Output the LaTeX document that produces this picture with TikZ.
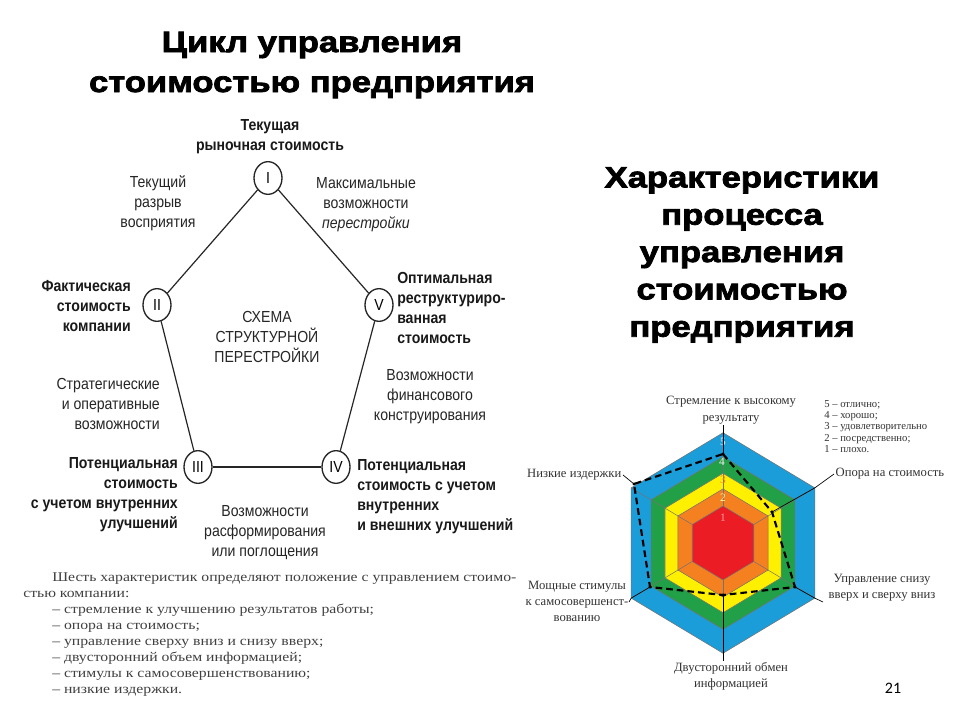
\documentclass[tikz,border=0pt]{standalone}
\usepackage{fontspec}
\setmainfont{Liberation Serif}
\newfontfamily\heavy[FakeStretch=1.18,FakeBold=2.6]{Liberation Sans}
\newfontfamily\narrow[FakeStretch=0.88]{Liberation Sans}
\newfontfamily\serifx[FakeStretch=1.18]{Liberation Serif}
\newfontfamily\calib{Carlito}
\usetikzlibrary{shapes.geometric}
\definecolor{hblue}{RGB}{27,157,218}
\definecolor{hgreen}{RGB}{34,160,72}
\definecolor{hyellow}{RGB}{255,240,0}
\definecolor{horange}{RGB}{245,128,32}
\definecolor{hred}{RGB}{236,28,36}
\begin{document}
\begin{tikzpicture}[x=0.75pt,y=-0.75pt,
  ttl/.style={font=\heavy\bfseries\fontsize{22}{30}\selectfont, align=center, inner sep=0},
  ttlr/.style={font=\heavy\bfseries\fontsize{22}{28}\selectfont, align=center, inner sep=0},
  lab/.style={font=\narrow\fontsize{12}{15}\selectfont, text=black!85, inner sep=0},
  blab/.style={font=\narrow\bfseries\fontsize{12}{15}\selectfont, text=black!90, inner sep=0},
  stage/.style={draw=black!85, ellipse, minimum width=21pt, minimum height=24.5pt, inner sep=0,
     line width=1pt, font=\narrow\fontsize{12}{14}\selectfont},
  edge/.style={line width=0.9pt, draw=black!85},
  para/.style={font=\serifx\fontsize{10}{12}\selectfont, text=black!75, align=left, inner sep=0},
  hlab/.style={font=\fontsize{9.5}{12}\selectfont, text=black!80, align=center, inner sep=1pt},
  leg/.style={font=\fontsize{8}{8.5}\selectfont, text=black!80, align=left, inner sep=0},
  num/.style={font=\fontsize{8.5}{9}\selectfont, inner sep=0},
  axisline/.style={draw=black, line width=0.5pt},
  band/.style={draw=black!55, line width=0.4pt},
  dashpath/.style={draw=black, line width=1.6pt, dash pattern=on 5pt off 3pt}]
\useasboundingbox (0,0) rectangle (960,720);
\fill[white] (0,0) rectangle (960,720);

% titles
\node[ttl] (title1) at (312,65) {Цикл управления\\стоимостью предприятия};
\node[ttlr] (title2) at (742,255) {Характеристики\\процесса\\управления\\стоимостью\\предприятия};

% pentagon
\node[stage] (s1) at (268,178) {I};
\node[stage] (s2) at (157,305) {II};
\node[stage] (s5) at (379,305) {V};
\node[stage] (s3) at (198,467) {III};
\node[stage] (s4) at (336,467) {IV};
\draw[edge] (s1) -- (s2);
\draw[edge] (s1) -- (s5);
\draw[edge] (s2) -- (s3);
\draw[edge] (s5) -- (s4);
\draw[edge] (s3) -- (s4);

\node[blab, align=center] (l1) at (270,137) {Текущая\\рыночная стоимость};
\node[lab, align=center] (g12) at (158,203) {Текущий\\разрыв\\восприятия};
\node[lab, align=center] (g15) at (366,205) {Максимальные\\возможности\\\textit{перестройки}};
\node[blab, align=right, anchor=east] (l2) at (131,306) {Фактическая\\стоимость\\компании};
\node[blab, align=left, anchor=west] (l5) at (397,308) {Оптимальная\\реструктуриро-\\ванная\\стоимость};
\node[lab, align=center] (sch) at (267,337) {СХЕМА\\СТРУКТУРНОЙ\\ПЕРЕСТРОЙКИ};
\node[lab, align=right, anchor=east] (g23) at (160,404) {Стратегические\\и оперативные\\возможности};
\node[blab, align=right, anchor=east] (l3) at (178,495) {Потенциальная\\стоимость\\с учетом внутренних\\улучшений};
\node[lab, align=center] (g34) at (265,533) {Возможности\\расформирования\\или поглощения};
\node[lab, align=center] (g45) at (430,397) {Возможности\\финансового\\конструирования};
\node[blab, align=left, anchor=west] (l4) at (357,497) {Потенциальная\\стоимость с учетом\\внутренних\\и внешних улучшений};

% paragraph
\node[para, anchor=west] (par) at (23,635) {\hspace*{21.75pt}Шесть характеристик определяют положение с управлением стоимо-\\
стью компании:\\
\hspace*{21.75pt}– стремление к улучшению результатов работы;\\
\hspace*{21.75pt}– опора на стоимость;\\
\hspace*{21.75pt}– управление сверху вниз и снизу вверх;\\
\hspace*{21.75pt}– двусторонний объем информацией;\\
\hspace*{21.75pt}– стимулы к самосовершенствованию;\\
\hspace*{21.75pt}– низкие издержки.};

% hexagon chart
\begin{scope}[shift={(723,543)}, yscale=-1.04]
  \foreach \R/\c in {106/hblue, 83/hgreen, 67/hyellow, 52/horange, 35.5/hred}
    \filldraw[band, fill=\c] (90:\R) -- (30:\R) -- (-30:\R) -- (-90:\R) -- (-150:\R) -- (150:\R) -- cycle;
  \foreach \a in {90,30,-30,-90,-150,150}
    \draw[band] (\a:35.5) -- (\a:106);
  \coordinate (bvT) at (90:106);
  \coordinate (bvUR) at (30:106);
  \coordinate (bvLR) at (-30:106);
  \coordinate (bvB) at (-90:106);
  \coordinate (bvLL) at (-150:106);
  \coordinate (bvUL) at (150:106);
\end{scope}

\node[num, text=white!85!hblue] (n5) at (723,442) {5};
\node[num, text=white!90!hgreen] (n4) at (722,462) {4};
\node[num, text=horange] (n3) at (723,480) {3};
\node[num, text=white!60!hyellow] (n2) at (723,498) {2};
\node[num, text=white!55!hred] (n1) at (723,518) {1};

\coordinate (T) at (723,454);
\coordinate (UR) at (772,512);
\coordinate (LR) at (795,587);
\coordinate (B) at (723,595);
\coordinate (LL) at (650,587);
\coordinate (UL) at (634,484);

% labels
\node[hlab, font=\fontsize{9.5}{12.5}\selectfont] (hT) at (731,410) {Стремление к высокому\\результату};
\node[hlab, anchor=east] (hUL) at (623,475) {Низкие издержки};
\node[hlab, anchor=west] (hUR) at (834,474) {Опора на стоимость};
\node[leg, anchor=north west] (legend) at (824,400) {5 – отлично;\\4 – хорошо;\\3 – удовлетворительно\\2 – посредственно;\\1 – плохо.};
\node[hlab] (hLR) at (882,588) {Управление снизу\\вверх и сверху вниз};
\node[hlab] (hLL) at (577,601) {Мощные стимулы\\к самосовершенст-\\вованию};
\node[hlab] (hB) at (731,676) {Двусторонний обмен\\информацией};

\coordinate (lrEnd) at (823,602);
\coordinate (llEnd) at (629,602);

\draw[axisline] (T |- hT.south) -- (T);
\draw[axisline] (hUL.east) -- (UL);
\draw[axisline] (UR) -- (bvUR) -- (hUR.west);
\draw[axisline] (LR) -- (bvLR) -- (lrEnd);
\draw[axisline] (B) -- (B |- hB.north);
\draw[axisline] (LL) -- (bvLL) -- (llEnd);

\draw[dashpath] (T) -- (UR) -- (LR) -- (B) -- (LL) -- (UL) -- cycle;
\foreach \p in {T,UR,LR,B,LL,UL}
  \fill (\p) circle (1.6);

\node[font=\calib\fontsize{12}{14}\selectfont, inner sep=0] (pg) at (893,688) {21};
\end{tikzpicture}
\end{document}
